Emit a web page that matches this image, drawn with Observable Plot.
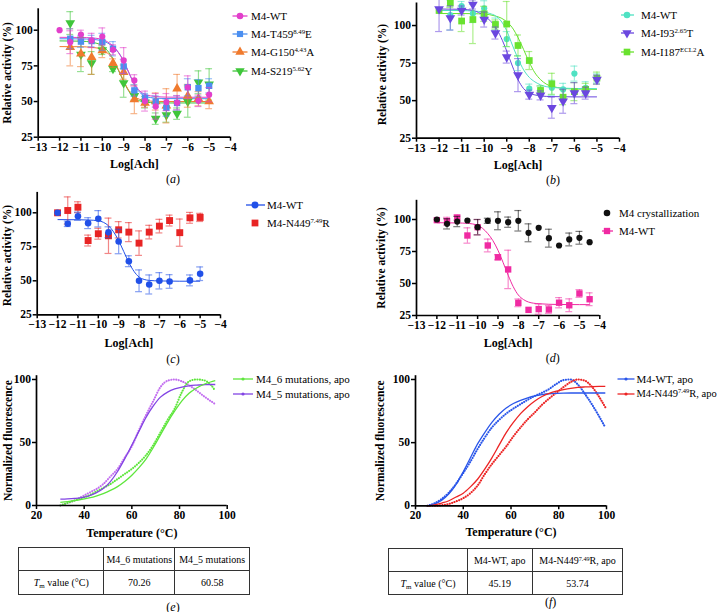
<!DOCTYPE html>
<html><head><meta charset="utf-8">
<script src="https://cdn.jsdelivr.net/npm/d3@7"></script>
<script src="https://cdn.jsdelivr.net/npm/@observablehq/plot@0.6"></script>
<style>
body{margin:0;background:#fff;}
#fig{position:relative;width:720px;height:612px;background:#fff;font-family:'Liberation Serif','Times New Roman',serif;color:#000;overflow:hidden}
.leg{position:absolute;font-size:11px;line-height:16px;white-space:nowrap}
.cap{position:absolute;font-size:12px;transform:translate(-50%,-50%);white-space:nowrap}
table.tm{position:absolute;border-collapse:collapse;font-size:10px;table-layout:fixed}
table.tm td{border:1.4px solid #333;text-align:center;padding:0;white-space:nowrap}
sup{font-size:0.62em;vertical-align:0.55em;line-height:0}
sub{font-size:0.7em;vertical-align:-0.25em;line-height:0}
</style></head><body><div id="fig"></div>
<script>
// ---------- data: dose-response (log[Ach]) ----------
const conc = [-12,-11.5,-11,-10.5,-10,-9.5,-9,-8.5,-8,-7.5,-7,-6.5,-6,-5.5,-5];
const concD = [-12,-11.5,-11,-10.5,-10,-9.5,-9,-8.5,-8,-7.5,-7,-6.5,-6,-5.5,-5,-4.5];
const xTicksDose = [-13,-12,-11,-10,-9,-8,-7,-6,-5,-4];
const yTicksDose = [25,50,75,100];

// panel (a)
const aWT    = [100,91.6,97,92.8,95.6,86.3,78.8,64.8,50.3,46.6,49.6,49.2,60,50.5,54.8];
const aWTe   = [0,8,3,5,6,3.5,9,4,7,9,6,5,8,4,5];
const aT459  = [null,94,92,92.4,91.8,87,74.6,57.8,52.7,50,45.7,49,60,59.4,61];
const aT459e = [0,7,4,4,6,5,5,4,3,4,6,5,6,6,5];
const aG150  = [null,88,83.5,81,85.8,76.9,70.6,51.5,49,50,47,59,54,52,50];
const aG150e = [0,13,9,12,5,3,5,10,3,6,12,10,8,5,5];
const aS219  = [null,105,83,77,86,73,63,54,49.5,38,40.5,41.5,50,63.5,62];
const aS219e = [0,8,12,8,3,2,10,3,4,4,5,4,11,8,11];

// panel (b)
const bWT     = [110,107,113,108,111.5,101,91,75,58,56.8,58.6,57.5,68,58.6,64.8];
const bWTe    = [0,10,3,6,5,4,5,5,3,3,5,4,5,4,3];
const bI93    = [111,105,110,114,104,95,79,67,54,53.5,45.3,49.6,55,55,64];
const bI93e   = [15,8,3,3,5,4,4,11,3,3,7,8,7,4,3];
const bI187   = [110,115,103,104,107.8,100.7,101,86.7,76.7,56.8,61.2,52.3,56,57.5,65];
const bI187e  = [0,3,7,16,5,3,15,7,6,3,7,5,6,4,4];

// panel (c)
const cWT    = [100,91.9,97.5,92.4,95.6,85.7,78.9,64.4,50,47.3,50,49.5,null,50.3,55.2];
const cWTe   = [0,2,3,4,6,4,9,4,8,7,6,5,0,4,5];
const cN449  = [100,101.7,104.1,79.6,84.6,83.1,87.5,85.8,77.7,85.8,90.2,94.3,85.4,96.3,96.6];
const cN449e = [0,10,4,4,4,13,6,7,9,5,5,4,10,4,3];

// panel (d)
const dCryst  = [100,96.6,98.4,99.2,94,99,99,97.9,99,89.6,93.5,85.4,79.7,84.4,85.7,82.3];
const dCryste = [0,4,4,0,6,2,7,4,8,7,0,7,0,5,5,0];
const dWT     = [99.5,98.7,101.5,87.5,94,79.7,70.5,61,34.9,29.4,30,29.7,35,33,42.2,37.7];
const dWTe    = [0,3,2,6,6,5,2,15,3,0,4,3,4,5,3,5];

// fitted curves
const fitGrid  = [-12,-11,-10.5,-10,-9.75,-9.5,-9.25,-9,-8.75,-8.5,-8.25,-8,-7.75,-7.5,-7,-6,-5];
const fitGridD = [-12,-11,-10.5,-10,-9.75,-9.5,-9.25,-9,-8.75,-8.5,-8.25,-8,-7.75,-7.5,-7,-6,-5,-4.5];
const aFitWT   = [95,94.9,94.6,93.5,91.8,89,84.5,78,70,62.5,57.5,55,54,53.5,53.1,53,53];
const aFitT459 = [94,93.9,93.6,92.6,91,88.5,84.5,78.5,70,62,56.5,53.8,52.8,52.4,52.1,52,52];
const aFitG150 = [88.5,88.4,88,86.5,84,79.5,72.5,64.5,57.5,53.5,51.5,50.6,50.3,50.1,50,50,50];
const aFitS219 = [92.5,92.3,91.6,89,85.5,80,72,64,57,52.5,50.5,49.6,49.3,49.1,49,49,49];
const bFitWT   = [110,110,109.6,109,108,106.5,103,96.5,87,78,70.5,65.5,62.5,60.5,58.8,58.1,58];
const bFitI93  = [111,110.8,110,106.5,103.5,99,92,83,73,64,58,55,53.8,53.1,52.7,52.5,52.5];
const bFitI187 = [108,108,107.9,107.6,107.2,106.3,105,102.5,98.5,92,84,75.5,68.5,64,59.5,57.7,57.5];
const cFitWT   = [95,94.9,94.7,94.2,93,90.5,86,79.5,71.5,63.5,57,52.8,51,50.3,49.9,49.7,49.7];
const dFitWT   = [97.5,97.3,97,95.5,93,89,83.5,76,66.5,56.5,47.5,41,37.5,35.5,34.2,33.6,33.5,33.5];

// ---------- data: thermal shift ----------
const eTemp   = [30,33,36,39,42,45,48,51,54,57,60,63,66,69,72,75,78,81,84,87,90,93,95];
const e6Data  = [0,2,4,6,8,11,14,17,21,25,29,34,40,48,58,68,77,90,98.5,100,99.5,96,91];
const e6Fit   = [2.5,3,3.8,4.8,6,7.5,9.5,12,15,19,24,30,37,46,56,66,75,83,89,93,96,98,99];
const e5Data  = [0,2,4,7,10,13,17,23,29,38,47,60,72,83,94,99,100,98.5,95.5,91.5,87,83,80.5];
const e5Fit   = [5,5.2,5.6,6.3,7.7,10,13.5,19,27,37,48,59,70,79,86,90,92.5,94,95,95.5,95.8,96,96];
const fTemp   = [25,28,31,34,37,40,43,46,49,52,55,58,61,64,67,70,73,76,79,82,85,88,91,94,97,99.5];
const fWTData = [0,2,5.5,10.5,17.5,26,35,45,54,62,68,73,77,80.5,84,87,89.5,92.5,96.5,99.5,100,96,88.5,80,70.5,62];
const fWTFit  = [0,1.5,4.5,9.5,17,27,38,49,58,66,72.5,77.5,81,83.5,85.5,87,88,88.7,89,89.2,89.3,89.3,89.3,89.3,89.3,89.3];
const fNData  = [0,0,0.5,1.5,3.5,6,10,16,25,33,40,47,55,62,68.5,74,80,85,89.5,94,98,100,99,94,86,78];
const fNFit   = [0,0.8,2.2,4,7,10,15,21,29,38,48,58,66,73,78.5,83,86.5,89,90.8,92,93,93.7,94.1,94.4,94.5,94.5];
const tmCols_e = ["M4_6 mutations","M4_5 mutations"];
const tmVals_e = ["70.26","60.58"];
const tmCols_f = ["M4-WT, apo","M4-N449<sup>7.49</sup>R, apo"];
const tmVals_f = ["45.19","53.74"];

// ---------- helpers ----------
const FONT = "'Liberation Serif','Times New Roman',serif";
const fig = document.getElementById("fig");
function place(el, left, top){ el.style.position="absolute"; el.style.left=left+"px"; el.style.top=top+"px"; fig.appendChild(el); }
const S3 = Math.sqrt(3);
const downTri = {draw(ctx, size){ const y = -Math.sqrt(size/(S3*3)); ctx.moveTo(0,-y*2); ctx.lineTo(-S3*y, y); ctx.lineTo(S3*y, y); ctx.closePath(); }};
function rows(xs, ys, es){ return xs.map((x,i)=>({x, y: ys[i], e: es ? es[i] : 0})).filter(d=>d.y!=null); }
function pts(xs, ys){ return xs.map((x,i)=>({x, y: ys[i]})); }
const fmt = d3.format("d");

function seriesMarks(data, s, capW){
  const eb = data.filter(d=>d.e>0);
  const es = {stroke:s.color, strokeOpacity:0.55, strokeWidth:1.2};
  return [
    Plot.ruleX(eb, {x:"x", y1:d=>d.y-d.e, y2:d=>d.y+d.e, ...es}),
    Plot.ruleY(eb, {y:d=>d.y+d.e, x1:d=>d.x-capW, x2:d=>d.x+capW, ...es}),
    Plot.ruleY(eb, {y:d=>d.y-d.e, x1:d=>d.x-capW, x2:d=>d.x+capW, ...es}),
    Plot.dot(data, {x:"x", y:"y", symbol:s.symbol, r:s.r, fill:s.color, stroke:"none"})
  ];
}

function panel(o){
  const marks = [];
  for (const c of (o.lines||[])) marks.push(Plot.line(pts(c.x, c.y), {x:"x", y:"y", stroke:c.color, strokeWidth:c.w||1, curve:"monotone-x", strokeDasharray:c.dash, strokeLinecap:c.dash?"round":"butt"}));
  for (const s of (o.series||[])) marks.push(...seriesMarks(rows(s.x, s.y, s.e), s, o.capW));
  marks.push(
    Plot.ruleX([o.xdom[0]], {stroke:"#000", strokeWidth:1.7}),
    Plot.ruleY([o.ydom[0]], {stroke:"#000", strokeWidth:1.7}),
    Plot.axisX({ticks:o.xticks, tickFormat:fmt, tickSize:4, tickPadding:1.5, strokeWidth:1.5, label:null}),
    Plot.axisY({ticks:o.yticks, tickFormat:fmt, tickSize:4, tickPadding:1.5, strokeWidth:1.5, label:null}),
    Plot.text([o.xlabel], {text:d=>d, frameAnchor:"bottom", textAnchor:"middle", lineAnchor:"middle", dy:o.xdy, fontSize:12, fontWeight:"bold"}),
    Plot.text([o.ylabel], {text:d=>d, frameAnchor:"left", textAnchor:"middle", lineAnchor:"middle", dx:o.ydx, dy:o.ylabDy||0, rotate:-90, fontSize:11.5, fontWeight:"bold"})
  );
  const svg = Plot.plot({
    width:o.W, height:o.H, marginLeft:o.m[0], marginRight:o.m[1], marginTop:o.m[2], marginBottom:o.m[3],
    x:{domain:o.xdom, label:null}, y:{domain:o.ydom, label:null},
    style:{fontFamily:FONT, fontSize:"11.5px", fontWeight:"bold", color:"#000", background:"transparent", overflow:"visible"},
    marks
  });
  place(svg, o.left, o.top);
}

function legend(items){
  for (const it of items){
    const w = 24, h = 14;
    const svg = d3.create("svg").attr("width", w).attr("height", h).style("overflow","visible");
    if (it.line) svg.append("line").attr("x1", it.lx1 - it.mx + w/2).attr("x2", it.lx2 - it.mx + w/2).attr("y1", h/2).attr("y2", h/2).attr("stroke", it.color).attr("stroke-width", it.lw||1.3);
    if (it.sym) svg.append("path").attr("d", d3.symbol(it.sym, it.size||40)()).attr("transform", `translate(${w/2},${h/2})`).attr("fill", it.color);
    place(svg.node(), it.mx - w/2, it.y - h/2);
    const sp = document.createElement("div");
    sp.className = "leg"; sp.innerHTML = it.html;
    if (it.fs) sp.style.fontSize = it.fs + "px";
    place(sp, it.tx, it.y - 8);
  }
}
function caption(letter, x, y){
  const d = document.createElement("div"); d.className="cap"; d.innerHTML = `(<i>${letter}</i>)`; place(d, x, y);
}
function tmTable(left, top, widths, height, cols, vals){
  const t = document.createElement("table"); t.className = "tm";
  t.style.width = widths.reduce((a,b)=>a+b,0)+"px"; t.style.height = height+"px";
  t.innerHTML = `<colgroup>${widths.map(w=>`<col style="width:${w}px">`).join("")}</colgroup>` +
    `<tr><td></td>${cols.map(c=>`<td>${c}</td>`).join("")}</tr>` +
    `<tr><td><i>T</i><sub>m</sub> value (°C)</td>${vals.map(v=>`<td>${v}</td>`).join("")}</tr>`;
  place(t, left, top);
}

// ---------- colours ----------
const C = {
  aWT:"#e23fcb", aT:"#4b8ff0", aG:"#f07a2e", aS:"#3fc63a",
  bWT:"#4fe2c3", bI93:"#6b47df", bI187:"#69e22f",
  cWT:"#2150e8", cN:"#e82424",
  dK:"#111111", dWT:"#f02aa2",
  eG:"#5ee63c", eP:"#8244e4", ePd:"#c36ff0",
  fB:"#2a56ea", fR:"#ec2424"
};

// ---------- panel (a) ----------
panel({left:0, top:0, W:240, H:175, m:[37.7,10,8.3,38.3], xdom:[-13,-4], ydom:[25,115],
  xticks:xTicksDose, yticks:yTicksDose, xlabel:"Log[Ach]", ylabel:"Relative activity (%)", xdy:27.3, ydx:-30.7, ylabDy:0, capW:0.16,
  lines:[{x:fitGrid,y:aFitS219,color:C.aS},{x:fitGrid,y:aFitG150,color:C.aG},{x:fitGrid,y:aFitT459,color:C.aT},{x:fitGrid,y:aFitWT,color:C.aWT}],
  series:[
    {x:conc,y:aS219,e:aS219e,color:C.aS,symbol:downTri,r:3.6},
    {x:conc,y:aG150,e:aG150e,color:C.aG,symbol:"triangle",r:3.6},
    {x:conc,y:aT459,e:aT459e,color:C.aT,symbol:"square",r:3.6},
    {x:conc,y:aWT,e:aWTe,color:C.aWT,symbol:"circle",r:3.1}
  ]});
legend([
  {y:15.5, lx1:232, lx2:247, mx:239.5, tx:251, color:C.aWT, line:true, sym:d3.symbolCircle, size:34, html:"M4-WT"},
  {y:33.5, lx1:232, lx2:247, mx:239.5, tx:251, color:C.aT, line:true, sym:d3.symbolSquare, size:38, html:"M4-T459<sup>8.49</sup>E"},
  {y:52, lx1:232, lx2:247, mx:239.5, tx:251, color:C.aG, line:true, sym:d3.symbolTriangle, size:38, html:"M4-G150<sup>4.43</sup>A"},
  {y:70.5, lx1:232, lx2:247, mx:239.5, tx:251, color:C.aS, line:true, sym:downTri, size:38, html:"M4-S219<sup>5.62</sup>Y"}
]);
caption("a", 173, 179);

// ---------- panel (b) ----------
panel({left:360, top:0, W:270, H:175, m:[56,11,2.5,37.3], xdom:[-13,-4], ydom:[25,115],
  xticks:xTicksDose, yticks:yTicksDose, xlabel:"Log[Ach]", ylabel:"Relative activity (%)", xdy:26.6, ydx:-34.3, ylabDy:4, capW:0.155,
  lines:[{x:fitGrid,y:bFitI187,color:C.bI187},{x:fitGrid,y:bFitWT,color:C.bWT},{x:fitGrid,y:bFitI93,color:C.bI93}],
  series:[
    {x:conc,y:bWT,e:bWTe,color:C.bWT,symbol:"circle",r:3.1},
    {x:conc,y:bI187,e:bI187e,color:C.bI187,symbol:"square",r:3.8},
    {x:conc,y:bI93,e:bI93e,color:C.bI93,symbol:downTri,r:3.6}
  ]});
legend([
  {y:15, lx1:621, lx2:634, mx:627, tx:641, color:C.bWT, line:true, sym:d3.symbolCircle, size:34, html:"M4-WT"},
  {y:32.5, lx1:621, lx2:634, mx:627, tx:641, color:C.bI93, line:true, sym:downTri, size:38, html:"M4-I93<sup>2.65</sup>T"},
  {y:51.5, lx1:621, lx2:634, mx:627, tx:641, color:C.bI187, line:true, sym:d3.symbolSquare, size:44, html:"M4-I187<sup>ECL2</sup>A"}
]);
caption("b", 553, 180);

// ---------- panel (c) ----------
panel({left:0, top:185, W:230, H:180, m:[36.7,10,6.9,50.7], xdom:[-13,-4], ydom:[25,115],
  xticks:xTicksDose, yticks:yTicksDose, xlabel:"Log[Ach]", ylabel:"Relative activity (%)", xdy:28.7, ydx:-29.7, ylabDy:2, capW:0.17,
  lines:[{x:fitGrid,y:cFitWT,color:C.cWT}],
  series:[
    {x:conc,y:cN449,e:cN449e,color:C.cN,symbol:"square",r:3.9},
    {x:conc,y:cWT,e:cWTe,color:C.cWT,symbol:"circle",r:3.3}
  ]});
legend([
  {y:205, lx1:246, lx2:265, mx:255, tx:267, color:C.cWT, line:true, sym:d3.symbolCircle, size:38, html:"M4-WT"},
  {y:223, lx1:246, lx2:265, mx:255, tx:267, color:C.cN, line:false, sym:d3.symbolSquare, size:46, html:"M4-N449<sup>7.49</sup>R"}
]);
caption("c", 173, 358.7);

// ---------- panel (d) ----------
panel({left:360, top:185, W:250, H:180, m:[56,10.7,14.8,50], xdom:[-13,-4], ydom:[25,115],
  xticks:xTicksDose, yticks:yTicksDose, xlabel:"Log[Ach]", ylabel:"Relative activity (%)", xdy:27.7, ydx:-35.3, ylabDy:0, capW:0.17,
  lines:[{x:fitGridD,y:dFitWT,color:C.dWT}],
  series:[
    {x:concD,y:dWT,e:dWTe,color:C.dWT,symbol:"square",r:3.6},
    {x:concD,y:dCryst,e:dCryste,color:C.dK,symbol:"circle",r:3.1}
  ]});
legend([
  {y:213.3, lx1:602, lx2:613, mx:607, tx:619, color:C.dK, line:false, sym:d3.symbolCircle, size:34, html:"M4 crystallization"},
  {y:230.7, lx1:602, lx2:613, mx:607, tx:619, color:C.dWT, line:true, sym:d3.symbolSquare, size:40, html:"M4-WT"}
]);
caption("d", 552.7, 357.7);

// ---------- panel (e) ----------
const DOT = "0.1 2.4";
panel({left:0, top:365, W:240, H:175, m:[36,13.3,10.2,35], xdom:[20,100], ydom:[0,103],
  xticks:[20,40,60,80,100], yticks:[0,50,100], xlabel:"Temperature (°C)", ylabel:"Normalized fluorescence", xdy:27.3, ydx:-28,
  lines:[
    {x:eTemp,y:e5Data,color:C.ePd,w:2.1,dash:DOT},
    {x:eTemp,y:e6Data,color:C.eG,w:2.1,dash:DOT},
    {x:eTemp,y:e5Fit,color:C.eP,w:1.3},
    {x:eTemp,y:e6Fit,color:C.eG,w:1.3}
  ]});
legend([
  {y:379, lx1:233, lx2:253, mx:243, tx:256, color:C.eG, line:true, sym:d3.symbolCircle, size:8, html:"M4_6 mutations, apo"},
  {y:394.3, lx1:233, lx2:253, mx:243, tx:256, color:C.eP, line:true, sym:d3.symbolCircle, size:8, html:"M4_5 mutations, apo"}
]);
tmTable(18.3, 546.7, [85,71,74.7], 48.3, tmCols_e, tmVals_e);
caption("e", 173, 606.7);

// ---------- panel (f) ----------
panel({left:360, top:365, W:260, H:175, m:[55,14,10.2,34.7], xdom:[20,100], ydom:[0,103],
  xticks:[20,40,60,80,100], yticks:[0,50,100], xlabel:"Temperature (°C)", ylabel:"Normalized fluorescence", xdy:26.7, ydx:-35,
  lines:[
    {x:fTemp,y:fWTData,color:C.fB,w:2.1,dash:DOT},
    {x:fTemp,y:fNData,color:C.fR,w:2.1,dash:DOT},
    {x:fTemp,y:fWTFit,color:C.fB,w:1.3},
    {x:fTemp,y:fNFit,color:C.fR,w:1.3}
  ]});
legend([
  {y:379, lx1:617, lx2:634, mx:625.5, tx:636.5, color:C.fB, line:true, sym:d3.symbolCircle, size:8, html:"M4-WT, apo"},
  {y:394.3, lx1:617, lx2:634, mx:625.5, tx:636.5, color:C.fR, line:true, sym:d3.symbolCircle, size:8, html:"M4-N449<sup>7.49</sup>R, apo", fs:10.5}
]);
tmTable(388.3, 548.3, [78.4,65,90.6], 46.7, tmCols_f, tmVals_f);
caption("f", 550.7, 602);
</script></body></html>
